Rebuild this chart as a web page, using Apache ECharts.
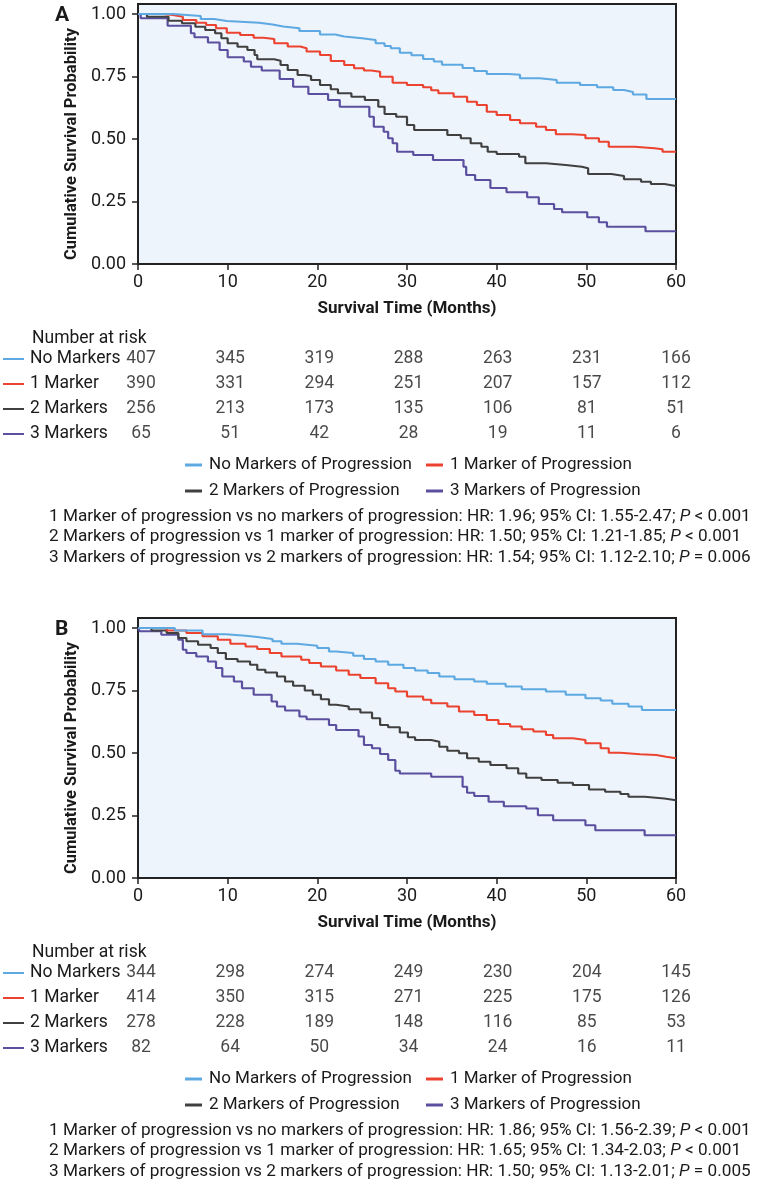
<!DOCTYPE html>
<html>
<head>
<meta charset="utf-8">
<script src="https://cdn.jsdelivr.net/npm/echarts@6/dist/echarts.min.js"></script>
<style>
  html, body { margin: 0; padding: 0; background: #fff; }
  #chart { width: 758px; height: 1182px; }
</style>
</head>
<body>
<div id="chart"></div>
<script>
// survival curves, [month, probability]
const aNone = [[0,1],[3.9,0.992],[7,0.98],[8.5,0.972],[9.9,0.965],[13.5,0.958],[15,0.95],[16.2,0.943],[18,0.932],[20.3,0.918],[22,0.91],[23,0.903],[25,0.896],[26.5,0.883],[27.5,0.872],[28.2,0.863],[29.2,0.845],[30.5,0.835],[31.8,0.82],[33,0.81],[33.9,0.797],[36.2,0.784],[37.5,0.772],[38.9,0.76],[41.3,0.757],[42.6,0.743],[44.8,0.736],[46.7,0.725],[49.3,0.716],[51.2,0.707],[53,0.696],[54.2,0.688],[55.2,0.678],[56.7,0.66],[60,0.66]];
const aOne = [[0,1],[2.8,0.996],[3.9,0.989],[5,0.976],[6.5,0.965],[7.6,0.956],[8.7,0.943],[9.9,0.925],[11.4,0.916],[12.9,0.905],[14,0.9],[15.2,0.883],[16.7,0.87],[18.1,0.863],[18.8,0.85],[20.3,0.836],[21.5,0.812],[23,0.796],[24.1,0.783],[25.2,0.774],[26,0.769],[27,0.749],[28.4,0.725],[30,0.716],[31.8,0.707],[32.7,0.695],[33.5,0.683],[35.2,0.669],[36.7,0.649],[37.8,0.636],[38.9,0.609],[40,0.596],[41.5,0.576],[42.6,0.563],[44.4,0.549],[45.5,0.536],[46.6,0.519],[48.4,0.516],[49.9,0.503],[51.4,0.489],[52.5,0.469],[55.4,0.463],[57.6,0.459],[58.5,0.449],[60,0.449]];
const aTwo = [[0,1],[1,0.989],[3.4,0.973],[4.9,0.963],[6.4,0.949],[7.5,0.936],[8.6,0.923],[9.3,0.903],[10,0.883],[11.1,0.869],[12.2,0.856],[13,0.836],[13.3,0.819],[15.2,0.813],[15.9,0.796],[16.7,0.776],[17.8,0.756],[18.6,0.752],[19.3,0.736],[20.3,0.716],[21.5,0.699],[22.3,0.683],[23.8,0.669],[25.3,0.656],[26.8,0.629],[27.5,0.6],[28.8,0.589],[30,0.556],[30.8,0.536],[34.5,0.516],[36,0.503],[37.1,0.483],[38.3,0.469],[39,0.449],[40,0.44],[42.5,0.429],[43.2,0.403],[45.5,0.396],[47.7,0.389],[49.5,0.383],[50.2,0.36],[52.8,0.352],[54.2,0.339],[56.1,0.329],[57.2,0.32],[58.7,0.312],[60,0.312]];
const aThree = [[0,1],[0.3,0.983],[3.3,0.953],[5.9,0.923],[6.3,0.907],[7.8,0.886],[9.1,0.856],[10,0.827],[11.8,0.81],[12.6,0.789],[13.8,0.774],[15.8,0.74],[17.3,0.709],[19,0.68],[21.2,0.656],[22.5,0.629],[25.8,0.589],[26.3,0.549],[27.4,0.529],[27.9,0.503],[28.4,0.483],[28.9,0.449],[30.7,0.436],[32.9,0.416],[36.3,0.389],[36.6,0.356],[37.6,0.336],[39.3,0.304],[41.1,0.287],[43.4,0.267],[44.7,0.24],[46.4,0.22],[47.3,0.207],[50.1,0.187],[51.4,0.167],[52.3,0.149],[56.6,0.131],[60,0.131]];

const bNone = [[0,1],[4.1,0.99],[7.2,0.975],[9.8,0.969],[12,0.964],[13.3,0.956],[15,0.947],[16,0.937],[17.7,0.929],[20,0.92],[21.3,0.906],[22.1,0.9],[24,0.889],[25.2,0.876],[26.5,0.866],[27.9,0.853],[29.6,0.84],[30.9,0.83],[32.3,0.82],[33.6,0.806],[35.3,0.795],[37.5,0.786],[38.9,0.777],[41,0.766],[42.8,0.755],[45.5,0.746],[47.7,0.733],[49.9,0.719],[51.6,0.71],[52.9,0.697],[54.7,0.686],[56.2,0.672],[60,0.672]];
const bOne = [[0,1],[3.2,0.99],[5.4,0.98],[7.2,0.967],[8.9,0.953],[10.3,0.937],[12,0.926],[13.3,0.916],[14.7,0.9],[16,0.886],[18.2,0.873],[19.1,0.86],[20.4,0.846],[22.1,0.83],[23.5,0.813],[24.8,0.8],[26.5,0.779],[27.9,0.759],[28.7,0.746],[30,0.726],[31.8,0.713],[32.7,0.699],[34.5,0.686],[35.8,0.666],[37.5,0.652],[38.9,0.632],[40.2,0.616],[41.5,0.606],[42.8,0.595],[44.1,0.586],[45.5,0.572],[46.3,0.559],[48.5,0.552],[49.9,0.539],[51.6,0.519],[52.5,0.501],[53.8,0.495],[56,0.492],[57.8,0.485],[58.9,0.479],[60,0.479]];
const bTwo = [[0,1],[1.5,0.99],[3.2,0.98],[4.5,0.96],[5.4,0.947],[6.7,0.933],[8.1,0.92],[8.9,0.9],[9.8,0.876],[11.1,0.866],[12.5,0.853],[13.3,0.833],[14.2,0.822],[15.5,0.806],[16.4,0.786],[17.3,0.769],[18.6,0.75],[19.5,0.733],[20.4,0.715],[21.3,0.693],[22.1,0.686],[23.5,0.675],[24.8,0.662],[26.1,0.639],[27,0.612],[27.9,0.603],[29.2,0.582],[30.1,0.563],[30.9,0.552],[32.7,0.545],[33.6,0.525],[34.5,0.509],[35.8,0.499],[36.7,0.479],[38,0.465],[39.3,0.452],[41.1,0.439],[42.4,0.418],[43.3,0.401],[45,0.392],[46.8,0.381],[48.5,0.372],[50.3,0.354],[52.1,0.345],[53.8,0.336],[54.7,0.325],[56.5,0.318],[58.7,0.311],[60,0.311]];
const bThree = [[0,1],[0.2,0.987],[2.6,0.973],[4.5,0.953],[5,0.913],[5.4,0.9],[6.5,0.886],[7.8,0.866],[8.7,0.84],[9.4,0.806],[10.7,0.786],[11.6,0.759],[12.9,0.733],[14.9,0.706],[15.5,0.686],[16.4,0.67],[18,0.646],[18.8,0.635],[21.3,0.612],[22.1,0.592],[24.6,0.566],[25.2,0.532],[26.1,0.519],[27,0.496],[27.9,0.472],[28.7,0.429],[29.2,0.418],[32.7,0.405],[36.2,0.365],[36.7,0.341],[37.5,0.328],[39.1,0.305],[40.8,0.287],[43.3,0.278],[44.6,0.251],[46.3,0.231],[49.9,0.211],[51,0.191],[56.5,0.171],[60,0.171]];

// number at risk
const riskTimes = [0, 10, 20, 30, 40, 50, 60];
const rowNames = ['No Markers', '1 Marker', '2 Markers', '3 Markers'];
const riskANone = [407, 345, 319, 288, 263, 231, 166];
const riskAOne = [390, 331, 294, 251, 207, 157, 112];
const riskATwo = [256, 213, 173, 135, 106, 81, 51];
const riskAThree = [65, 51, 42, 28, 19, 11, 6];
const riskBNone = [344, 298, 274, 249, 230, 204, 145];
const riskBOne = [414, 350, 315, 271, 225, 175, 126];
const riskBTwo = [278, 228, 189, 148, 116, 85, 53];
const riskBThree = [82, 64, 50, 34, 24, 16, 11];

const yTicks = [0, 0.25, 0.5, 0.75, 1];
const seriesNames = ['No Markers of Progression', '1 Marker of Progression', '2 Markers of Progression', '3 Markers of Progression'];

const statsA = [
  ['1 Marker of progression vs no markers of progression: HR: 1.96; 95% CI: 1.55-2.47; ', ' < 0.001'],
  ['2 Markers of progression vs 1 marker of progression: HR: 1.50; 95% CI: 1.21-1.85; ', ' < 0.001'],
  ['3 Markers of progression vs 2 markers of progression: HR: 1.54; 95% CI: 1.12-2.10; ', ' = 0.006']
];
const statsB = [
  ['1 Marker of progression vs no markers of progression: HR: 1.86; 95% CI: 1.56-2.39; ', ' < 0.001'],
  ['2 Markers of progression vs 1 marker of progression: HR: 1.65; 95% CI: 1.34-2.03; ', ' < 0.001'],
  ['3 Markers of progression vs 2 markers of progression: HR: 1.50; 95% CI: 1.13-2.01; ', ' = 0.005']
];

const colors = ['#5ea9e2', '#ec4230', '#404040', '#5b4f9f'];
const ink = '#1a1a1a';
const font = 'Roboto';

const chart = echarts.init(document.getElementById('chart'));

const option = {
  animation: false,
  backgroundColor: '#fff',
  textStyle: { fontFamily: font, color: ink },
  grid: [], xAxis: [], yAxis: [], series: [], legend: [], title: [], graphic: []
};

function addPanel(top, letter, curves, risk, stats) {
  const g = option.grid.length;
  // survival plot
  option.grid.push({
    left: 138, right: 82, top: top, height: 260, show: true,
    backgroundColor: '#eef4fb', borderColor: '#222', borderWidth: 2
  });
  option.xAxis.push({
    type: 'value', gridIndex: g, min: 0, max: 60, interval: 10,
    name: 'Survival Time (Months)', nameLocation: 'middle', nameGap: 36,
    nameTextStyle: { fontFamily: font, fontWeight: 'bold', fontSize: 17, color: ink },
    axisLine: { lineStyle: { color: '#222', width: 2 } },
    axisTick: { length: 6, lineStyle: { color: '#222', width: 1.5 } },
    axisLabel: { fontSize: 18, color: ink, margin: 9 },
    splitLine: { show: false }
  });
  option.yAxis.push({
    type: 'value', gridIndex: g, min: 0, max: 1.04,
    name: 'Cumulative Survival Probability', nameLocation: 'middle', nameGap: 36,
    nameTextStyle: { fontFamily: font, fontWeight: 'bold', fontSize: 16.5, color: ink, padding: [0, 20, 0, 0] },
    axisLine: { show: true, lineStyle: { color: '#222', width: 2 } },
    axisTick: { show: true, length: 6, customValues: yTicks, lineStyle: { color: '#222', width: 1.5 } },
    axisLabel: {
      fontSize: 18, color: ink, margin: 12, customValues: yTicks,
      formatter: v => (v > 1.001 ? '' : v.toFixed(2))
    },
    splitLine: { show: false }
  });
  curves.forEach((c, i) => {
    option.series.push({
      name: seriesNames[i], type: 'line', xAxisIndex: g, yAxisIndex: g,
      data: c, step: 'end', showSymbol: false, symbol: 'none',
      color: colors[i], lineStyle: { width: 2.2, color: colors[i] }, z: 10 - i
    });
  });

  // number-at-risk table sharing the time scale
  const t = g + 1;
  const rich = { t: { fontSize: 17.5, color: ink, padding: [0, 0, 0, 6] } };
  colors.forEach((c, i) => { rich['m' + i] = { width: 21, height: 2, backgroundColor: c }; });
  option.grid.push({ left: 138, right: 82, top: top + 342.5, height: 100 });
  option.xAxis.push({ type: 'value', gridIndex: t, min: 0, max: 60, show: false });
  option.yAxis.push({
    type: 'category', gridIndex: t, inverse: true, data: rowNames,
    axisLine: { show: false }, axisTick: { show: false }, splitLine: { show: false },
    axisLabel: { margin: 138, align: 'left', formatter: (v, i) => '{m' + i + '|}{t|' + v + '}', rich: rich }
  });
  const cells = [];
  risk.forEach((row, r) => row.forEach((n, j) => cells.push([riskTimes[j], rowNames[r], n])));
  option.series.push({
    type: 'scatter', xAxisIndex: t, yAxisIndex: t, data: cells, symbolSize: 0, silent: true,
    label: { show: true, position: 'inside', formatter: p => String(p.value[2]), fontSize: 17.5, color: ink, fontFamily: font }
  });

  option.title.push({ text: 'Number at risk', left: 27, top: top + 321, textStyle: { fontFamily: font, fontSize: 17.5, fontWeight: 'normal', color: ink } });
  option.title.push({ text: letter, left: 50, top: top - 4, textStyle: { fontFamily: font, fontSize: 21, fontWeight: 'bold', color: ink } });

  const legendBase = {
    orient: 'vertical', top: top + 447, itemGap: 8, itemWidth: 17, itemHeight: 3, icon: 'rect',
    textStyle: { fontFamily: font, fontSize: 17, color: ink, lineHeight: 18, padding: [0, 0, 0, 2] }
  };
  option.legend.push(Object.assign({}, legendBase, { left: 180, data: [seriesNames[0], seriesNames[2]] }));
  option.legend.push(Object.assign({}, legendBase, { left: 421, data: [seriesNames[1], seriesNames[3]] }));

  option.graphic.push({
    type: 'text', left: 49, top: top + 502,
    style: {
      text: stats.map(s => s[0] + '{p|P}' + s[1]).join('\n'),
      fontFamily: font, fontSize: 17.2, lineHeight: 20.5, fill: ink,
      rich: { p: { fontStyle: 'italic', fontFamily: font, fontSize: 17.2, fill: ink } }
    }
  });
}

addPanel(4, 'A', [aNone, aOne, aTwo, aThree], [riskANone, riskAOne, riskATwo, riskAThree], statsA);
addPanel(618, 'B', [bNone, bOne, bTwo, bThree], [riskBNone, riskBOne, riskBTwo, riskBThree], statsB);

chart.setOption(option);
</script>
</body>
</html>
